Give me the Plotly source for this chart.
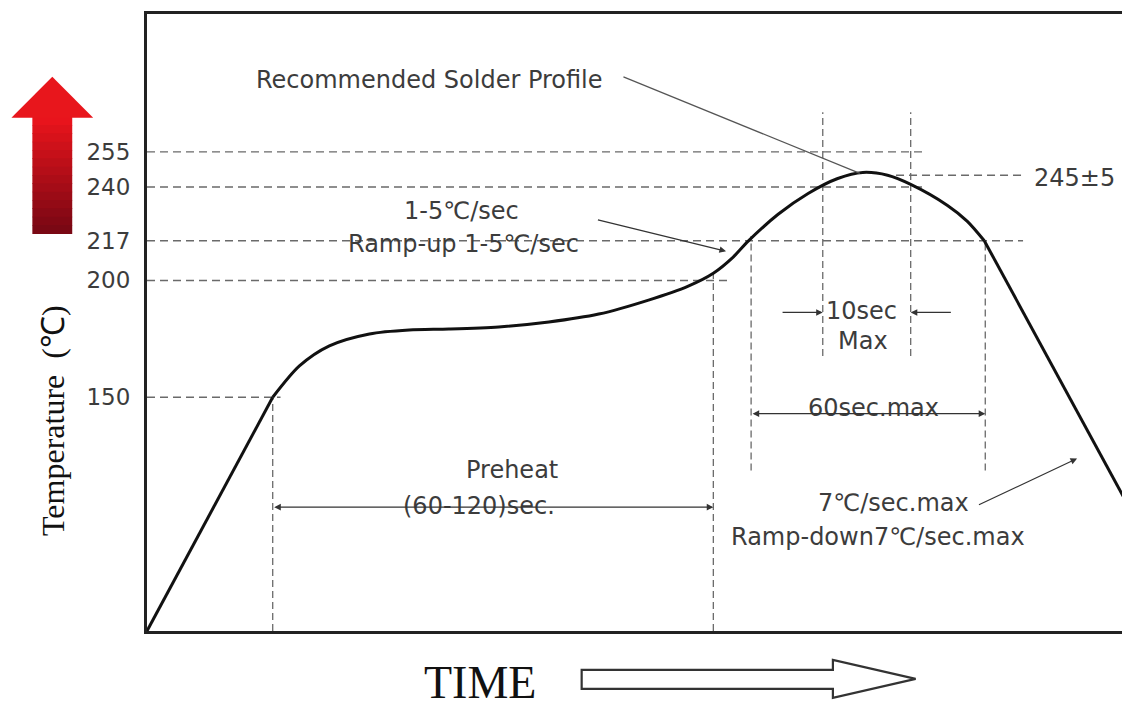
import plotly.graph_objects as go

# ---------------- data ----------------
ramp_up_time = [0, 38.6]
ramp_up_temp = [50, 150]

profile_time = [38.6, 46.8, 56.0, 68.3, 80.5, 92.7, 108.0, 123.4, 138.7, 154.0, 166.2,
                173.9, 180.0, 184.6, 193.8, 203.0, 212.1, 219.8, 227.4, 234.5, 245.8, 251.9, 257.1]
profile_temp = [150, 163.4, 172.0, 177.1, 178.8, 179.2, 180.1, 182.2, 185.6, 191.6, 197.6,
                203.1, 210.0, 216.8, 228.3, 237.2, 243.6, 246.2, 245.0, 241.1, 232.1, 225.3, 217.0]

ramp_down_time = [257.1, 300]
ramp_down_temp = [217, 107]

tick_temps = [255, 240, 217, 200, 150]
tick_labels = ["255", "240", "217", "200", "150"]

# horizontal guide lines (temperature, start time, end time)
h_guide_temp = [255, 240, 245, 217, 200, 150]
h_guide_t0 = [0, 0, 230, 0, 0, 0]
h_guide_t1 = [238, 238, 268.5, 269, 178.5, 41]

# vertical guide lines (time, low temp, high temp)
v_guide_time = [38.6, 173.9, 185.5, 207.5, 234.5, 257.4]
v_guide_lo = [50, 50, 118.7, 167.7, 167.7, 118.7]
v_guide_hi = [150, 203, 219, 272, 272, 217]

# ---------------- figure ----------------
OFF = 8  # page body margin
W, H = 1130 - OFF, 711 - OFF
ML, MR, MT, MB = 147 - OFF, 3, 12 - OFF, 80
PW, PH = W - ML - MR, H - MT - MB


def px(xp):
    return (xp - 147) / PW


def py(yp):
    return (631 - yp) / PH


GRAY = "#3c3c3c"
LABEL_FONT = dict(family="DejaVu Sans", size=24, color=GRAY)

fig = go.Figure()
for tt, TT, shape in [(ramp_up_time, ramp_up_temp, "linear"),
                      (profile_time, profile_temp, "spline"),
                      (ramp_down_time, ramp_down_temp, "linear")]:
    fig.add_trace(go.Scatter(x=tt, y=TT, mode="lines",
                             line=dict(color="#111111", width=3, shape=shape,
                                       smoothing=0.8 if shape == "spline" else None),
                             hoverinfo="skip", showlegend=False))

shapes = []
for T, t0, t1 in zip(h_guide_temp, h_guide_t0, h_guide_t1):
    shapes.append(dict(type="line", xref="x", yref="y", x0=t0, x1=t1, y0=T, y1=T,
                       line=dict(color="#6a6a6a", width=1.4, dash="8px,5px"), layer="below"))
for t, lo, hi in zip(v_guide_time, v_guide_lo, v_guide_hi):
    shapes.append(dict(type="line", xref="x", yref="y", x0=t, x1=t, y0=lo, y1=hi,
                       line=dict(color="#6a6a6a", width=1.3, dash="7px,4px"), layer="below"))

# leader line to the curve peak
shapes.append(dict(type="line", xref="x", yref="y", x0=146.3, y0=287.1, x1=218.9, y1=245.8,
                   line=dict(color="#555555", width=1.2)))

# red "temperature up" arrow (gradient in bands)
top_c = (232, 20, 28)
bot_c = (122, 8, 20)
n_bands = 14
y_top, y_bot = 115, 232
for i in range(n_bands):
    f = i / (n_bands - 1)
    c = tuple(int(top_c[k] + (bot_c[k] - top_c[k]) * f) for k in range(3))
    ya = y_top + (y_bot - y_top) * i / n_bands
    yb = y_top + (y_bot - y_top) * (i + 1) / n_bands + 0.6
    shapes.append(dict(type="rect", xref="paper", yref="paper",
                       x0=px(32), x1=px(72), y0=py(yb), y1=py(ya),
                       fillcolor="rgb(%d,%d,%d)" % c, line=dict(width=0)))
shapes.append(dict(type="path", xref="paper", yref="paper",
                   path="M %f,%f L %f,%f L %f,%f Z" % (px(11), py(116), px(93), py(116), px(52), py(75)),
                   fillcolor="rgb(232,22,28)", line=dict(width=0)))

# hollow TIME arrow
pts = [(583, 670), (835, 670), (835, 660), (918, 679), (835, 698), (835, 689), (583, 689)]
path = "M " + " L ".join("%f,%f" % (px(a), py(b)) for a, b in pts) + " Z"
shapes.append(dict(type="path", xref="paper", yref="paper", path=path,
                   fillcolor="white", line=dict(color="#333333", width=2.2)))

ann = []


def text(t, T, s, xanchor="center"):
    ann.append(dict(x=t, y=T, xref="x", yref="y", text=s, showarrow=False,
                    xanchor=xanchor, yanchor="middle", font=LABEL_FONT))


def arrow(t0, T0, t1, T1, both=False):
    ann.append(dict(x=t1, y=T1, ax=t0, ay=T0, xref="x", yref="y", axref="x", ayref="y",
                    text="", showarrow=True, arrowhead=2, arrowsize=1.1, arrowwidth=1.2,
                    startarrowhead=2, startarrowsize=1.1,
                    arrowside="end+start" if both else "end", arrowcolor="#333333"))


text(86.6, 285.9, "Recommended Solder Profile")
text(96.7, 229.6, "1-5℃/sec")
text(97.3, 215.5, "Ramp-up 1-5℃/sec")
arrow(138.0, 226.1, 177.8, 212.5)
text(112.0, 118.7, "Preheat")
text(102.0, 103.3, "(60-120)sec.")
arrow(38.6, 103, 173.9, 103, both=True)
text(219.5, 186.9, "10sec")
text(219.8, 174.0, "Max")
arrow(194.7, 186.3, 207.5, 186.3)
arrow(247.3, 186.3, 234.5, 186.3)
text(223.0, 145.5, "60sec.max")
arrow(185.5, 143, 257.4, 143, both=True)
text(229.3, 104.6, "7℃/sec.max")
text(224.4, 90.1, "Ramp-down7℃/sec.max")
arrow(255.0, 103.7, 285.6, 123.8)
text(271.8, 244.0, "245±5", xanchor="left")

# axis titles
ann.append(dict(x=px(52), y=py(420), xref="paper", yref="paper", text="Temperature  (℃)",
                textangle=-90, showarrow=False, xanchor="center", yanchor="middle",
                font=dict(family="Liberation Serif", size=32, color="#111111")))
ann.append(dict(x=px(481), y=py(683), xref="paper", yref="paper", text="TIME",
                showarrow=False, xanchor="center", yanchor="middle",
                font=dict(family="Liberation Serif", size=46, color="#111111")))

fig.update_layout(
    width=W, height=H,
    margin=dict(l=ML, r=MR, t=MT, b=MB),
    paper_bgcolor="white", plot_bgcolor="white",
    shapes=shapes, annotations=ann,
    xaxis=dict(range=[0, 300], showgrid=False, zeroline=False, showticklabels=False,
               showline=True, mirror=True, linecolor="#222222", linewidth=3, ticks=""),
    yaxis=dict(range=[50, 314], showgrid=False, zeroline=False,
               tickvals=tick_temps, ticktext=tick_labels,
               tickfont=dict(family="DejaVu Sans", size=23, color=GRAY),
               ticks="outside", ticklen=9, tickcolor="rgba(0,0,0,0)",
               showline=True, mirror=True, linecolor="#222222", linewidth=3),
)

fig.write_html("out.html")
